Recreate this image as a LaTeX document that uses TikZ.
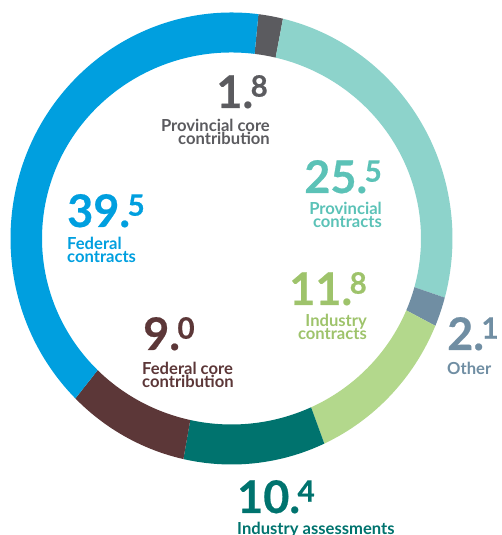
\documentclass[tikz,border=0pt]{standalone}
\usepackage{fontspec}
\setmainfont{Lato}
\newfontfamily\numfont[FakeBold=0.5]{Lato}
\usetikzlibrary{calc}
\definecolor{fedblue}{HTML}{009FDF}
\definecolor{provcore}{HTML}{5B5B5F}
\definecolor{provcon}{HTML}{8DD3CB}
\definecolor{provtext}{HTML}{5BC2B7}
\definecolor{other}{HTML}{708EA3}
\definecolor{indcon}{HTML}{B3D88C}
\definecolor{indtext}{HTML}{9EC36B}
\definecolor{indass}{HTML}{00736E}
\definecolor{fedcore}{HTML}{5C3738}
\newcommand\bignum[2]{{\numfont\fontsize{45}{45}\selectfont\bfseries #1.}\kern-2.5pt\raisebox{11.3pt}{\numfont\fontsize{29.5}{29.5}\selectfont\bfseries #2}}
\newcommand\linesR[2]{\vtop{\baselineskip=13pt\lineskiplimit=-100pt\halign{\hfil##\cr #1\cr #2\cr}}}
\newcommand\linesL[2]{\vtop{\baselineskip=13pt\lineskiplimit=-100pt\halign{##\hfil\cr #1\cr #2\cr}}}
\newcommand\seg[3]{%
  \fill[#3] ($(ctr)+(#1:221pt and 226pt)$)
    arc[start angle=#1, end angle=#2, x radius=221pt, y radius=226pt]
    -- ($(ctr)+(#2:189.5pt and 186pt)$)
    arc[start angle=#2, end angle=#1, x radius=189.5pt, y radius=186pt] -- cycle;}
\tikzset{
  num/.style={inner sep=0pt},
  lbl/.style={inner sep=0pt, font=\fontsize{16.6}{13}\selectfont\bfseries}
}
\begin{document}
\begin{tikzpicture}[x=1pt,y=1pt]
\useasboundingbox (0,0) rectangle (502,535);
\coordinate (ctr) at (231.5,296.5);
\seg{83}{76.53}{provcore}
\seg{76.53}{-15.18}{provcon}
\seg{-15.18}{-22.73}{other}
\seg{-22.73}{-65.17}{indcon}
\seg{-65.17}{-102.57}{indass}
\seg{-102.57}{-134.94}{fedcore}
\seg{-134.94}{-277}{fedblue}
% Provincial core contribution
\node[num, text=provcore, anchor=base east] (n1) at (268,427) {\bignum{1}{8}};
\node[lbl, text=provcore, anchor=base east] (l1) at (270,403) {\linesR{Provincial core}{contribution}};
% Provincial contracts
\node[num, text=provtext, anchor=base east] (n2) at (382,342) {\bignum{25}{5}};
\node[lbl, text=provtext, anchor=base east] (l2) at (382,320) {\linesR{Provincial}{contracts}};
% Federal contracts
\node[num, text=fedblue, anchor=base west] (n3) at (67,308) {\bignum{39}{5}};
\node[lbl, text=fedblue, anchor=base west] (l3) at (67,285) {\linesL{Federal}{contracts}};
% Federal core contribution
\node[num, text=fedcore, anchor=base west] (n4) at (143,185) {\bignum{9}{0}};
\node[lbl, text=fedcore, anchor=base west] (l4) at (142,160) {\linesL{Federal core}{contribution}};
% Industry contracts
\node[num, text=indtext, anchor=base east] (n5) at (367,230) {\bignum{11}{8}};
\node[lbl, text=indtext, anchor=base east] (l5) at (367,208) {\linesR{Industry}{contracts}};
% Other
\node[num, text=other, anchor=base west] (n6) at (447,185) {\bignum{2}{1}};
\node[lbl, text=other, anchor=base west] (l6) at (447,160) {Other};
% Industry assessments
\node[num, text=indass, anchor=base west] (n7) at (237,22) {\bignum{10}{4}};
\node[lbl, text=indass, anchor=base west] (l7) at (237,1) {Industry assessments};
\end{tikzpicture}
\end{document}
